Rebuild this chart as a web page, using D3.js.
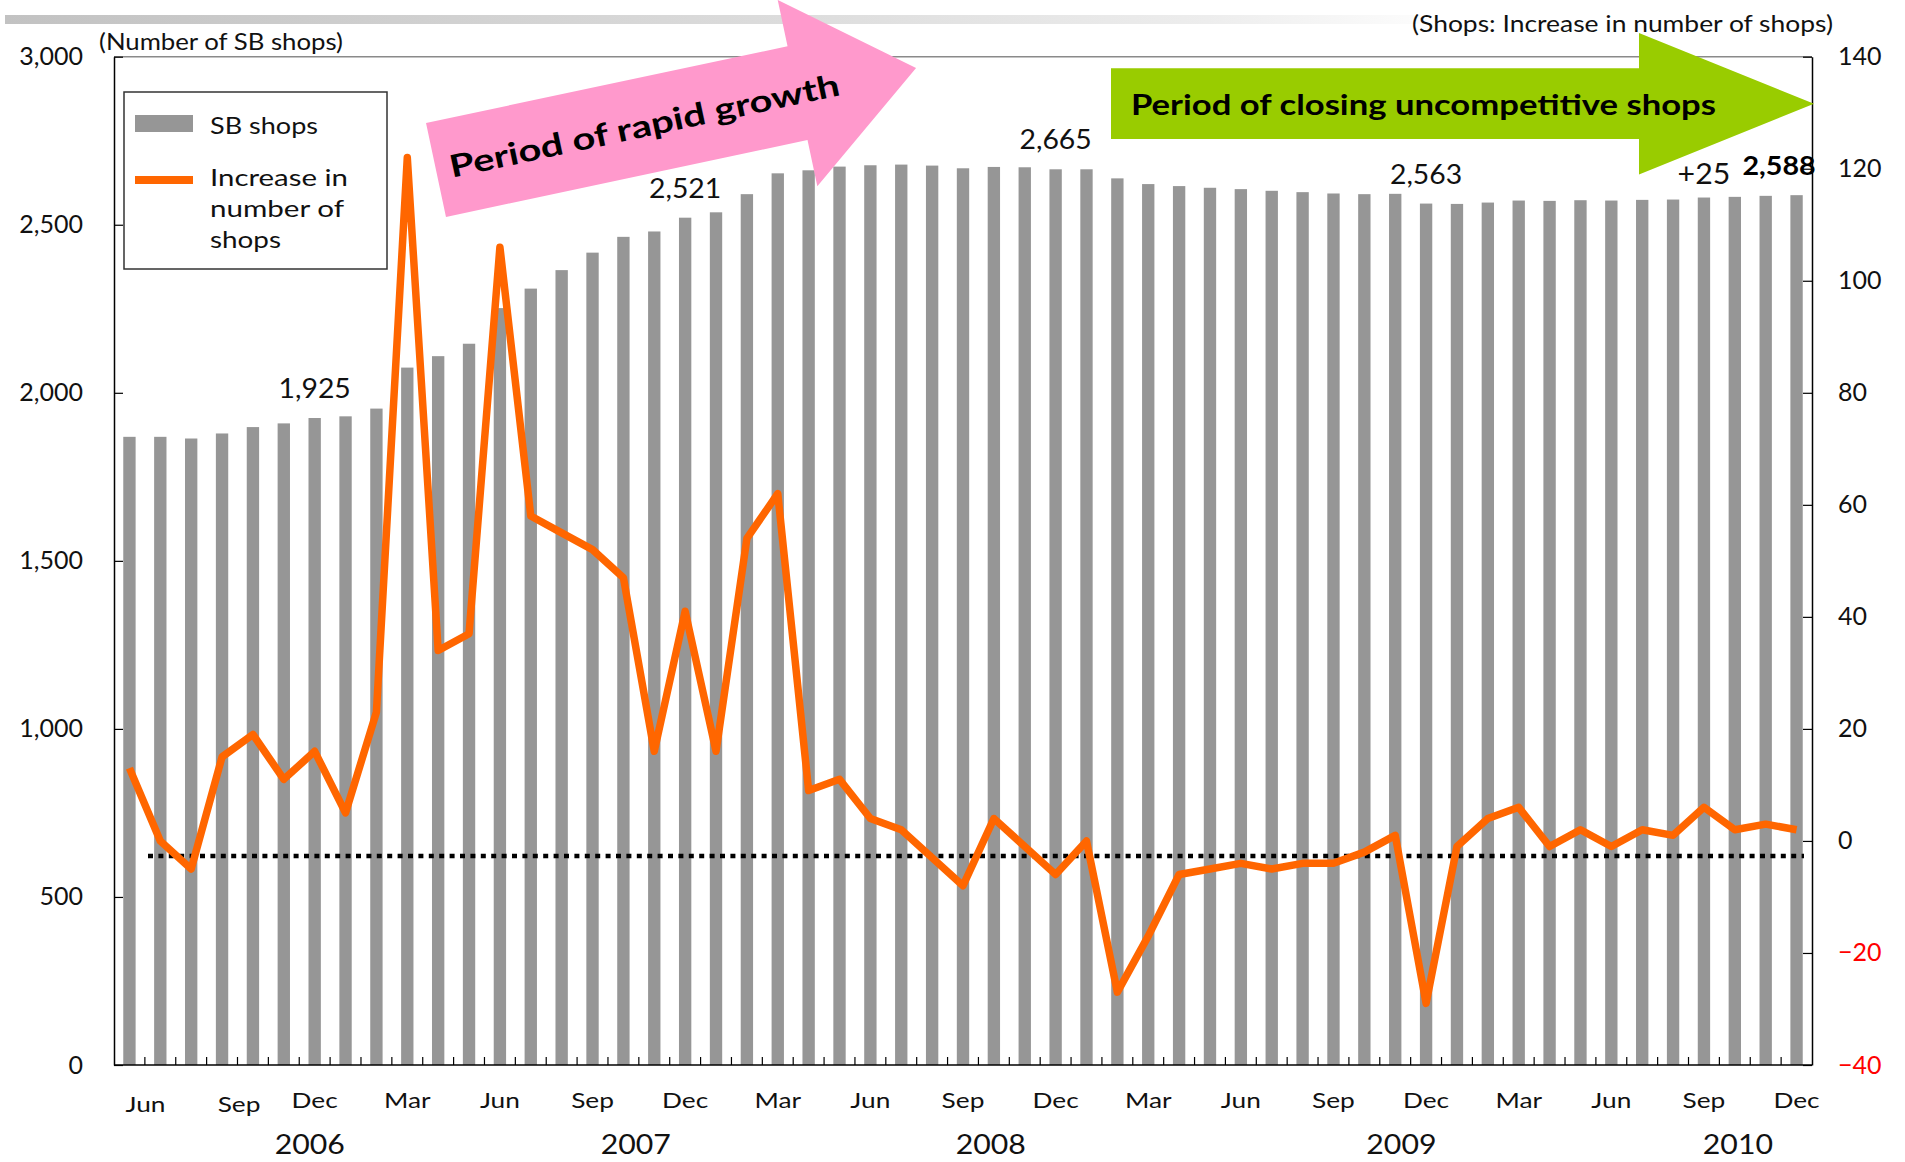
<!DOCTYPE html>
<html>
<head>
<meta charset="utf-8">
<script src="https://cdn.jsdelivr.net/npm/d3@7"></script>
<style>
  html, body { margin: 0; padding: 0; background: #ffffff; }
  svg { display: block; font-family: Lato, "Open Sans", sans-serif; }
</style>
</head>
<body>
<svg id="chart" width="1905" height="1162"></svg>
<script>
// Monthly categories, June 2006 – December 2010
const months = [
  "Jun 2006","Jul 2006","Aug 2006","Sep 2006","Oct 2006","Nov 2006","Dec 2006",
  "Jan 2007","Feb 2007","Mar 2007","Apr 2007","May 2007","Jun 2007","Jul 2007","Aug 2007","Sep 2007","Oct 2007","Nov 2007","Dec 2007",
  "Jan 2008","Feb 2008","Mar 2008","Apr 2008","May 2008","Jun 2008","Jul 2008","Aug 2008","Sep 2008","Oct 2008","Nov 2008","Dec 2008",
  "Jan 2009","Feb 2009","Mar 2009","Apr 2009","May 2009","Jun 2009","Jul 2009","Aug 2009","Sep 2009","Oct 2009","Nov 2009","Dec 2009",
  "Jan 2010","Feb 2010","Mar 2010","Apr 2010","May 2010","Jun 2010","Jul 2010","Aug 2010","Sep 2010","Oct 2010","Nov 2010","Dec 2010"
];

// Number of SB shops at month end (left axis)
const shops = [
  1869, 1869, 1864, 1879, 1898, 1909, 1925,
  1930, 1953, 2075, 2109, 2146, 2252, 2310, 2365, 2417, 2464, 2480, 2521,
  2537, 2591, 2653, 2662, 2673, 2677, 2679, 2676, 2668, 2672, 2671, 2665,
  2665, 2638, 2621, 2615, 2610, 2606, 2601, 2597, 2593, 2591, 2592, 2563,
  2562, 2566, 2572, 2571, 2573, 2572, 2574, 2575, 2581, 2583, 2586, 2588
];

// Monthly increase in number of shops (right axis)
const increase = [
  13, 0, -5, 15, 19, 11, 16,
  5, 23, 122, 34, 37, 106, 58, 55, 52, 47, 16, 41,
  16, 54, 62, 9, 11, 4, 2, -3, -8, 4, -1, -6,
  0, -27, -17, -6, -5, -4, -5, -4, -4, -2, 1, -29,
  -1, 4, 6, -1, 2, -1, 2, 1, 6, 2, 3, 2
];

const leftTicks  = [0, 500, 1000, 1500, 2000, 2500, 3000];
const rightTicks = [-40, -20, 0, 20, 40, 60, 80, 100, 120, 140];
const yearLabels = ["2006", "2007", "2008", "2009", "2010"];
const labelledMonths = ["Dec 2006", "Dec 2007", "Dec 2008", "Dec 2009"];
const finalMonth = "Dec 2010";
const referenceLevel = -2.7;

const legendItems = ["SB shops", ["Increase in", "number of", "shops"]];
const growthText = "Period of rapid growth";
const closingText = "Period of closing uncompetitive shops";

// ---------------------------------------------------------------
const svg = d3.select("#chart");
const plot = { left: 114, right: 1812, top: 56.7, bottom: 1065 };
const BAR = "#969696", ORANGE = "#ff6600", FONT = "Lato, 'Open Sans', sans-serif";

// wide geometric face look: widen glyphs horizontally
function fitWidth(sel, w) {
  sel.attr("textLength", w).attr("lengthAdjust", "spacingAndGlyphs");
}
function stretch(sel, k) {
  sel.each(function () {
    const n = this.getComputedTextLength();
    d3.select(this).attr("textLength", n * k).attr("lengthAdjust", "spacingAndGlyphs");
  });
}

const x = d3.scaleBand().domain(months)
  .range([plot.left, plot.right]).paddingInner(0.6).paddingOuter(0.3);
const yL = d3.scaleLinear().domain([0, 3000]).range([plot.bottom, plot.top]);
const yR = d3.scaleLinear().domain([-40, 140]).range([plot.bottom, plot.top]);
const cx = m => x(m) + x.bandwidth() / 2;
const fmt = d3.format(",");

// decorative header band
const defs = svg.append("defs");
const grad = defs.append("linearGradient").attr("id", "band").attr("x1", "0").attr("x2", "1");
grad.append("stop").attr("offset", "0").attr("stop-color", "#c2c2c2");
grad.append("stop").attr("offset", "0.55").attr("stop-color", "#dcdcdc");
grad.append("stop").attr("offset", "0.85").attr("stop-color", "#ededed");
grad.append("stop").attr("offset", "1").attr("stop-color", "#fcfcfc");
svg.append("rect").attr("x", 5).attr("y", 15).attr("width", 1415).attr("height", 9)
  .attr("fill", "url(#band)");

// plot frame top
svg.append("line").attr("x1", plot.left).attr("x2", plot.right)
  .attr("y1", yL(3000)).attr("y2", yL(3000)).attr("stroke", "#8a8a8a").attr("stroke-width", 1.5);

// bars
svg.append("g").selectAll("rect").data(shops).join("rect")
  .attr("x", (d, i) => x(months[i]))
  .attr("width", x.bandwidth())
  .attr("y", d => yL(d))
  .attr("height", d => yL(0) - yL(d))
  .attr("fill", BAR);

// dotted reference line
svg.append("line")
  .attr("x1", plot.left + 34).attr("x2", plot.right - 8)
  .attr("y1", yR(referenceLevel)).attr("y2", yR(referenceLevel))
  .attr("stroke", "#000").attr("stroke-width", 4.5).attr("stroke-dasharray", "5 5.4");

// increase line
svg.append("path").datum(increase)
  .attr("d", d3.line().x((d, i) => cx(months[i])).y(d => yR(d)))
  .attr("fill", "none").attr("stroke", ORANGE).attr("stroke-width", 7.5)
  .attr("stroke-linejoin", "round").attr("stroke-linecap", "butt");

// left axis
const gL = svg.append("g").attr("transform", `translate(${plot.left},0)`)
  .call(d3.axisLeft(yL).tickValues(leftTicks).tickFormat(fmt)
    .tickSizeInner(-9).tickSizeOuter(0).tickPadding(31));
gL.attr("font-family", FONT).attr("font-size", 25);
gL.select(".domain").attr("stroke", "#000").attr("stroke-width", 1.5);
gL.selectAll(".tick line").attr("stroke", "#000").attr("stroke-width", 1.2);
gL.selectAll(".tick text").attr("fill", "#111");

// right axis
const gR = svg.append("g").attr("transform", `translate(${plot.right},0)`)
  .call(d3.axisRight(yR).tickValues(rightTicks)
    .tickSizeInner(-9).tickSizeOuter(0).tickPadding(26));
gR.attr("font-family", FONT).attr("font-size", 25);
gR.select(".domain").attr("stroke", "#000").attr("stroke-width", 1.5);
gR.selectAll(".tick line").attr("stroke", "#000").attr("stroke-width", 1.2);
gR.selectAll(".tick text").attr("fill", d => d < 0 ? "#ff0000" : "#111");

// bottom axis with inward ticks between months
svg.append("line").attr("x1", plot.left).attr("x2", plot.right)
  .attr("y1", plot.bottom).attr("y2", plot.bottom).attr("stroke", "#000").attr("stroke-width", 1.5);
const gap = (x.step() - x.bandwidth()) / 2;
svg.append("g").selectAll("line").data(months.slice(1)).join("line")
  .attr("x1", m => x(m) - gap).attr("x2", m => x(m) - gap)
  .attr("y1", plot.bottom).attr("y2", plot.bottom - 8)
  .attr("stroke", "#000").attr("stroke-width", 1.2);

// quarterly month labels
const shift = { "Jun 2006": [16, 4], "Sep 2006": [17, 4] };
svg.append("g").selectAll("text").data(months.filter((m, i) => i % 3 === 0)).join("text")
  .attr("x", m => cx(m) + (shift[m] ? shift[m][0] : 0))
  .attr("y", m => 1108 + (shift[m] ? shift[m][1] : 0))
  .attr("text-anchor", "middle").attr("font-size", 21).attr("fill", "#111")
  .text(m => m.split(" ")[0])
  .call(stretch, 1.25);

// year labels
const yearAt = { "2006": 5.84, "2007": 16.4, "2008": 27.9, "2009": 41.2, "2010": 52.1 };
svg.append("g").selectAll("text").data(yearLabels).join("text")
  .attr("x", y => cx(months[0]) + yearAt[y] * x.step())
  .attr("y", 1154).attr("text-anchor", "middle").attr("font-size", 27).attr("fill", "#111")
  .text(y => y)
  .call(stretch, 1.12);

// axis captions
svg.append("text").attr("x", 99).attr("y", 50).attr("font-size", 23).attr("fill", "#111")
  .text("(Number of SB shops)").call(fitWidth, 244);
svg.append("text").attr("x", 1833).attr("y", 32).attr("font-size", 23).attr("fill", "#111")
  .attr("text-anchor", "end").text("(Shops: Increase in number of shops)").call(fitWidth, 421);

// value labels above bars
svg.append("g").selectAll("text").data(labelledMonths).join("text")
  .attr("x", m => cx(m)).attr("y", m => yL(shops[months.indexOf(m)]) - 20)
  .attr("text-anchor", "middle").attr("font-size", 27).attr("fill", "#111")
  .text(m => fmt(shops[months.indexOf(m)]))
  .call(stretch, 1.05);

const lastVal = shops[months.indexOf(finalMonth)];
const prevDec = shops[months.indexOf("Dec 2009")];
svg.append("text")
  .attr("x", cx("Sep 2010")).attr("y", yL(prevDec) - 20)
  .attr("text-anchor", "middle").attr("font-size", 28).attr("fill", "#111")
  .text("+" + (lastVal - prevDec))
  .call(stretch, 1.08);
svg.append("text")
  .attr("x", cx(finalMonth) + 19).attr("y", yL(lastVal) - 20)
  .attr("text-anchor", "end").attr("font-size", 26).attr("font-weight", "bold").attr("fill", "#000")
  .text(fmt(lastVal))
  .call(stretch, 1.1);

// legend
const lg = svg.append("g");
lg.append("rect").attr("x", 124).attr("y", 92).attr("width", 263).attr("height", 177)
  .attr("fill", "#fff").attr("stroke", "#333").attr("stroke-width", 1.5);
lg.append("rect").attr("x", 135).attr("y", 115).attr("width", 58).attr("height", 17).attr("fill", BAR);
lg.append("line").attr("x1", 135).attr("x2", 193).attr("y1", 180).attr("y2", 180)
  .attr("stroke", ORANGE).attr("stroke-width", 8);
lg.append("text").attr("x", 210).attr("y", 134).attr("font-size", 24).attr("fill", "#111")
  .text(legendItems[0]).call(fitWidth, 108);
const lineWidths = [138, 134, 71];
legendItems[1].forEach((t, i) => {
  lg.append("text").attr("x", 210).attr("y", 186 + i * 31)
    .attr("font-size", 24).attr("fill", "#111")
    .text(t).call(fitWidth, lineWidths[i]);
});

// "rapid growth" block arrow
const pink = svg.append("g").attr("transform", "translate(436,170) rotate(-12)");
pink.append("polygon")
  .attr("points", [[0,-48],[369.6,-48],[369.6,-95.3],[490.8,0],[369.6,95.3],[369.6,48],[0,48]].join(" "))
  .attr("fill", "#ff99cc");
pink.append("text").attr("x", 14).attr("y", 11)
  .attr("font-size", 31).attr("font-weight", "bold").attr("fill", "#000")
  .text(growthText).call(fitWidth, 398);

// "closing uncompetitive shops" block arrow
const green = svg.append("g");
green.append("polygon")
  .attr("points", [[1111,68.3],[1639,68.3],[1639,33],[1814,103.7],[1639,174.4],[1639,139],[1111,139]].join(" "))
  .attr("fill", "#99cc00");
green.append("text").attr("x", 1131).attr("y", 115)
  .attr("font-size", 29).attr("font-weight", "bold").attr("fill", "#000")
  .text(closingText).call(fitWidth, 585);
</script>
</body>
</html>
